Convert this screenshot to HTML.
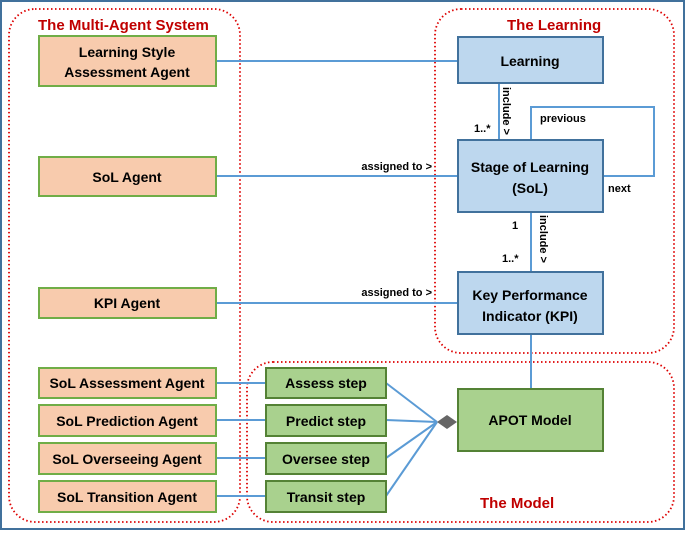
<!DOCTYPE html>
<html><head><style>
body{margin:0;background:#fff}
svg text{font-family:"Liberation Sans",sans-serif;font-weight:bold}
</style></head><body>
<svg width="685" height="530" viewBox="0 0 685 530" xmlns="http://www.w3.org/2000/svg">
<rect x="1" y="1" width="683" height="528" fill="#fff" stroke="#41719c" stroke-width="2"/>
<g fill="none" stroke="#d00" stroke-width="1.8" stroke-dasharray="1.5,2.5">
<rect x="9" y="9" width="231" height="513" rx="26"/>
<rect x="435" y="9" width="239" height="344" rx="26"/>
<rect x="247" y="362" width="427" height="160" rx="26"/>
</g>
<g stroke="#5b9bd5" stroke-width="2" fill="none">
<line x1="216" y1="61" x2="458" y2="61"/>
<line x1="216" y1="176" x2="458" y2="176"/>
<line x1="216" y1="303" x2="458" y2="303"/>
<line x1="499" y1="83" x2="499" y2="140"/>
<polyline points="531,140 531,107 654,107 654,176 603,176"/>
<line x1="531" y1="212" x2="531" y2="272"/>
<line x1="531" y1="334" x2="531" y2="389"/>
<line x1="216" y1="383" x2="266" y2="383"/>
<line x1="216" y1="420" x2="266" y2="420"/>
<line x1="216" y1="458" x2="266" y2="458"/>
<line x1="216" y1="496" x2="266" y2="496"/>
<line x1="386" y1="383" x2="437" y2="422"/>
<line x1="386" y1="420" x2="437" y2="422"/>
<line x1="386" y1="458" x2="437" y2="422"/>
<line x1="386" y1="496" x2="437" y2="422"/>
</g>
<polygon points="437,422 447,415 457,422 447,429" fill="#666"/>
<g fill="#f8cbad" stroke="#70ad47" stroke-width="2">
<rect x="39" y="36" width="177" height="50"/>
<rect x="39" y="157" width="177" height="39"/>
<rect x="39" y="288" width="177" height="30"/>
<rect x="39" y="368" width="177" height="30"/>
<rect x="39" y="405" width="177" height="31"/>
<rect x="39" y="443" width="177" height="31"/>
<rect x="39" y="481" width="177" height="31"/>
</g>
<g fill="#bdd7ee" stroke="#41719c" stroke-width="2">
<rect x="458" y="37" width="145" height="46"/>
<rect x="458" y="140" width="145" height="72"/>
<rect x="458" y="272" width="145" height="62"/>
</g>
<g fill="#a9d18e" stroke="#548235" stroke-width="2">
<rect x="266" y="368" width="120" height="30"/>
<rect x="266" y="405" width="120" height="31"/>
<rect x="266" y="443" width="120" height="31"/>
<rect x="266" y="481" width="120" height="31"/>
<rect x="458" y="389" width="145" height="62"/>
</g>
<g font-size="14" fill="#000" text-anchor="middle">
<text x="127" y="57">Learning Style</text>
<text x="127" y="77">Assessment Agent</text>
<text x="127" y="182">SoL Agent</text>
<text x="127" y="308">KPI Agent</text>
<text x="127" y="388">SoL Assessment Agent</text>
<text x="127" y="426">SoL Prediction Agent</text>
<text x="127" y="464">SoL Overseeing Agent</text>
<text x="127" y="502">SoL Transition Agent</text>
<text x="530" y="66">Learning</text>
<text x="530" y="172">Stage of Learning</text>
<text x="530" y="193">(SoL)</text>
<text x="530" y="300">Key Performance</text>
<text x="530" y="321">Indicator (KPI)</text>
<text x="326" y="388">Assess step</text>
<text x="326" y="426">Predict step</text>
<text x="326" y="464">Oversee step</text>
<text x="326" y="502">Transit step</text>
<text x="530" y="425">APOT Model</text>
</g>
<g font-size="15" fill="#c00000">
<text x="38" y="30">The Multi-Agent System</text>
<text x="507" y="30">The Learning</text>
<text x="480" y="508">The Model</text>
</g>
<g font-size="11" fill="#000">
<text x="540" y="122">previous</text>
<text x="608" y="192">next</text>
<text x="474" y="132">1..*</text>
<text x="512" y="229">1</text>
<text x="502" y="262">1..*</text>
<text x="432" y="170" text-anchor="end">assigned to &gt;</text>
<text x="432" y="296" text-anchor="end">assigned to &gt;</text>
<text transform="translate(503,87) rotate(90)">include &gt;</text>
<text transform="translate(540,215) rotate(90)">include &gt;</text>
</g>
</svg>
</body></html>
